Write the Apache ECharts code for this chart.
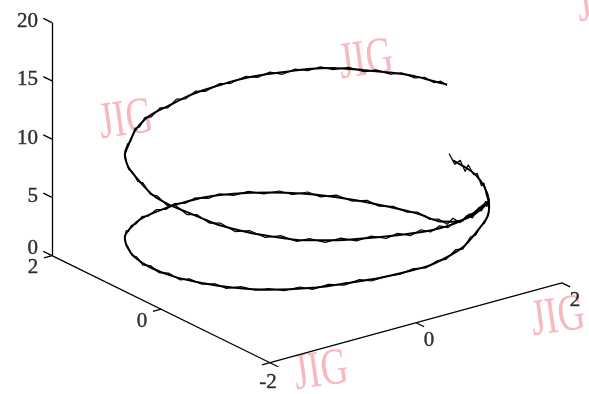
<!DOCTYPE html>
<html>
<head>
<meta charset="utf-8">
<script src="https://cdn.jsdelivr.net/npm/echarts@6/dist/echarts.min.js"></script>
<style>
  html, body { margin: 0; padding: 0; background: #fff; }
  #chart { width: 589px; height: 394px; }
</style>
</head>
<body>
<div id="chart"></div>
<script>
// Reference trajectory: heading angle in the x-y plane (degrees) and height z
const trackAngle = [90,101,109,119,127,135,148,158,173,181,193,204,215,229,241,252,264,276,288,297,
  307,320,332,347,352,362,373,385,395,405,415,427,435,444,450,461,472,487,499,511,
  521,530,537,547,559,568,579,584,595,606,612,620,626,634,642,655,667,679,686,694,
  700,707,715,722,728,733,739,745,751,757,765,775,784,793,800,807];
const trackZ = [5.92,5.94,5.86,5.68,5.40,5.32,5.30,4.85,4.58,4.58,4.51,4.40,4.13,3.84,3.66,3.50,3.28,3.08,2.90,2.85,
  2.70,2.15,1.95,1.62,1.55,1.45,1.24,0.98,0.77,0.55,0.35,0.22,0.22,0.20,0.65,2.05,3.85,5.90,6.85,7.15,
  7.25,7.45,7.62,7.90,8.10,8.15,8.22,8.35,8.58,8.82,9.05,9.25,9.28,9.40,9.75,9.90,9.75,9.55,10.00,10.25,
  10.30,10.30,10.50,10.65,10.76,10.92,11.06,11.17,11.27,11.45,11.60,11.64,11.78,11.95,12.00,12.20];

// Estimated (noisy) trajectory
const estAngle = [88,91,94,97,99,103,106,110,113,116,120,123,127,131,135,140,144,149,153,158,
  162,167,171,176,181,186,191,196,200,205,210,215,219,224,229,233,238,243,247,252,
  257,261,266,271,276,281,286,291,296,301,306,310,314,318,322,327,332,336,341,346,
  350,355,359,364,368,373,378,383,388,392,397,401,406,411,416,420,425,430,434,439,
  443,447,450,454,458,462,466,470,474,478,482,486,490,494,498,502,506,510,514,518,
  522,526,530,534,538,542,547,551,556,561,566,571,576,580,585,590,595,600,605,609,
  614,618,623,627,632,636,641,645,650,655,660,664,669,673,677,681,686,690,694,698,
  703,707,711,715,719,723,728,732,737,741,745,749,753,757,761,765,770,775,779,784,
  788,793,797,801,804,807];
const estZ = [6.35,5.65,6.25,5.55,6.3,5.8,6.2,5.5,6.05,5.45,5.95,5.3,5.75,5.1,5.55,5.25,5.4,5.1,5.3,4.7,
  5.0,4.55,4.75,4.45,4.7,4.5,4.55,4.35,4.6,4.25,4.4,4.0,4.2,3.85,3.95,3.7,3.85,3.5,3.7,3.4,
  3.55,3.2,3.4,3.05,3.25,2.85,3.1,2.75,3.0,2.65,2.85,2.45,2.6,2.1,2.25,1.9,2.1,1.75,1.9,1.5,
  1.7,1.4,1.6,1.25,1.45,1.1,1.25,0.9,1.05,0.7,0.9,0.5,0.7,0.3,0.5,0.15,0.35,0.1,0.35,0.05,
  0.35,0.2,0.95,0.9,1.85,2.0,3.1,3.35,4.35,4.5,5.45,5.6,6.4,6.3,6.95,6.8,7.2,7.0,7.35,7.1,
  7.45,7.2,7.65,7.4,7.85,7.6,8.05,7.8,8.2,7.95,8.3,8.0,8.35,8.1,8.55,8.3,8.75,8.5,9.0,8.8,
  9.25,9.0,9.45,9.15,9.55,9.35,9.9,9.65,10.0,9.75,10.0,9.65,9.9,9.45,9.75,9.5,10.2,9.95,10.4,10.1,
  10.45,10.15,10.6,10.35,10.75,10.5,10.9,10.75,11.15,10.95,11.3,11.05,11.45,11.3,11.65,11.45,11.75,11.5,11.8,11.65,
  11.95,11.8,12.1,11.9,12.25,12.1];

const TRACK_RADIUS = 2;

// Axis ticks
const zTicks = [0, 5, 10, 15, 20];
const xTicks = [-2, 0, 2];      // floor axis running to the back-left
const yTicks = [-2, 0, 2];      // floor axis running to the right
const yLabelTicks = [0, 2];     // -2 shares the front corner label

const X_RANGE = [-2, 2], Y_RANGE = [-2, 2], Z_RANGE = [0, 20];

// Orthographic camera
const AZ = 36.75 * Math.PI / 180;
const EL = 21.5 * Math.PI / 180;
const Z_HALF = 0.6875;

function project(x, y, z) {
  const X = x / 2, Y = y / 2, Z = (z - 10) / 10 * Z_HALF;
  const u = -Math.sin(AZ) * X + Math.cos(AZ) * Y;
  const v = Math.sin(EL) * (Math.cos(AZ) * X + Math.sin(AZ) * Y) + Math.cos(EL) * Z;
  return [u, v];
}

function trajectory(angles, zs) {
  return angles.map((a, i) => {
    const t = a * Math.PI / 180;
    return project(TRACK_RADIUS * Math.cos(t), TRACK_RADIUS * Math.sin(t), zs[i]);
  });
}

// Box edges and tick marks
const frame = [];
function seg(p, q) { frame.push({ coords: [project(...p), project(...q)] }); }
seg([X_RANGE[1], Y_RANGE[0], Z_RANGE[0]], [X_RANGE[1], Y_RANGE[0], Z_RANGE[1]]);
seg([X_RANGE[1], Y_RANGE[0], Z_RANGE[0]], [X_RANGE[0], Y_RANGE[0], Z_RANGE[0]]);
seg([X_RANGE[0], Y_RANGE[0], Z_RANGE[0]], [X_RANGE[0], Y_RANGE[1], Z_RANGE[0]]);
zTicks.forEach(t => seg([2, -2, t], [2.16, -2, t]));
xTicks.forEach(t => seg([t, -2, 0], [t, -2.11, 0]));
yTicks.forEach(t => seg([-2, t, 0], [-2.15, t, 0]));

// Tick labels
const labelFont = {
  fontFamily: 'Liberation Serif', fontSize: 21, color: '#000',
  textBorderColor: '#000', textBorderWidth: 0.4
};
const labels = [];
zTicks.forEach(t => labels.push({
  value: project(2, -2, t),
  label: Object.assign({ formatter: String(t), align: 'right', offset: [-14, t === 0 ? -7 : -1] }, labelFont)
}));
xTicks.forEach(t => labels.push({
  value: project(t, -2, 0),
  label: Object.assign({ formatter: String(t), align: 'center', offset: t === -2 ? [-2, 20] : [-19, 12] }, labelFont)
}));
yLabelTicks.forEach(t => labels.push({
  value: project(-2, t, 0),
  label: Object.assign({ formatter: String(t), align: 'center', offset: [13, 18] }, labelFont)
}));

// Journal watermarks
const marks = [
  [126, 121], [366, 61], [558, 318], [321, 372], [604, 4]
];
const watermark = marks.map(([x, y]) => ({
  type: 'text', x: x, y: y, rotation: 0.14, scaleX: 0.72, z: 0,
  style: {
    text: 'JIG', fontFamily: 'Liberation Serif', fontSize: 52,
    fill: '#f8b9be', align: 'center', verticalAlign: 'middle'
  }
}));

const chart = echarts.init(document.getElementById('chart'), null, { renderer: 'canvas' });
chart.setOption({
  animation: false,
  backgroundColor: '#ffffff',
  graphic: watermark,
  grid: { left: 0, right: 0, top: 0, bottom: 0 },
  xAxis: { type: 'value', min: -1.685, max: 1.548, show: false },
  yAxis: { type: 'value', min: -1.3243, max: 0.838, show: false },
  series: [
    {
      type: 'lines', coordinateSystem: 'cartesian2d', z: 3,
      data: frame,
      lineStyle: { color: '#000', width: 1.3, opacity: 1 },
      silent: true
    },
    {
      type: 'line', name: 'estimate', z: 4,
      data: trajectory(estAngle, estZ),
      symbol: 'none',
      lineStyle: { color: '#000', width: 1.2 }
    },
    {
      type: 'line', name: 'true', z: 5,
      data: trajectory(trackAngle, trackZ),
      symbol: 'none', smooth: 0.25,
      lineStyle: { color: '#000', width: 2 }
    },
    {
      type: 'scatter', z: 6,
      data: labels,
      symbolSize: 0,
      itemStyle: { color: 'transparent' },
      label: { show: true, position: 'inside', verticalAlign: 'middle' },
      silent: true
    }
  ]
});
</script>
</body>
</html>
